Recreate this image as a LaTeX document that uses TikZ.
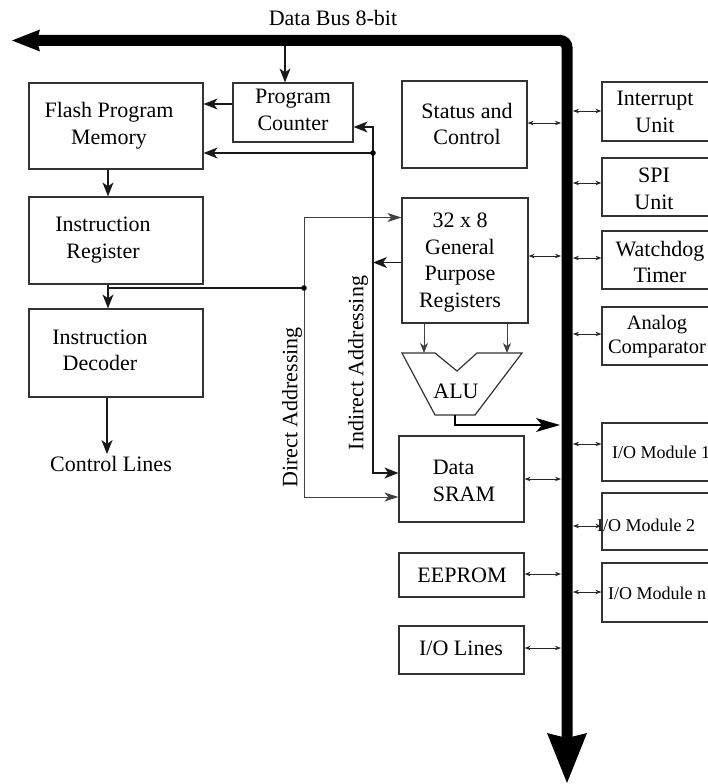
\documentclass[tikz,border=0pt]{standalone}
\usepackage{fontspec}
\setmainfont{Liberation Serif}
\usetikzlibrary{arrows.meta,calc}
\begin{document}
\begin{tikzpicture}[x=1pt,y=-1pt,
  boxst/.style={draw=black!80, line width=1.2pt, inner sep=0pt},
  txt/.style={font=\fontsize{22}{26.5}\selectfont, align=center, inner sep=0pt},
  arr/.style={draw=black!90, line width=1.1pt, -{Stealth[length=14pt,width=11pt,inset=4pt]}},
  arrD/.style={draw=black!75, line width=0.9pt, -{Stealth[length=14pt,width=9pt,inset=4pt]}},
  arrS/.style={draw=black!75, line width=0.9pt, -{Stealth[length=10pt,width=8pt,inset=3pt]}},
  conn/.style={draw=black!90, line width=1.1pt},
  dbl/.style={draw=black!85, line width=0.8pt, {Stealth[length=6pt,width=4.5pt]}-{Stealth[length=6pt,width=4.5pt]}},
  bigarr/.style={draw=black, line width=1.8pt, -{Stealth[length=24pt,width=14pt,inset=6pt,line width=0pt]}},
  bus/.style={draw=black, line width=11pt, rounded corners=7pt,
    {Stealth[length=28pt,width=22pt,inset=3pt,line width=0pt]}-{Stealth[length=50pt,width=40pt,inset=5pt,line width=0pt]}},
  dot/.style={fill=black}
]
\useasboundingbox (0,0) rectangle (708,784);
\clip (0,0) rectangle (708,784);

% ---- blocks ----
\node[boxst,minimum width=174pt,minimum height=86pt] (fpm) at (116,126) {};
\node[boxst,minimum width=120pt,minimum height=59pt] (pc) at (293,112.5) {};
\node[boxst,minimum width=174pt,minimum height=87pt] (ir) at (116,240.5) {};
\node[boxst,minimum width=174pt,minimum height=88pt] (id) at (116,353) {};
\node[boxst,minimum width=125pt,minimum height=87pt] (stat) at (464.5,124.5) {};
\node[boxst,minimum width=126pt,minimum height=125pt] (gpr) at (465,260.5) {};
\node[boxst,minimum width=125pt,minimum height=86pt] (sram) at (461.5,479) {};
\node[boxst,minimum width=125pt,minimum height=44pt] (eep) at (461.5,575) {};
\node[boxst,minimum width=125pt,minimum height=48pt] (iol) at (461.5,650) {};
% peripheral column
\node[boxst,minimum width=112pt,minimum height=59pt] (intu) at (658,111.5) {};
\node[boxst,minimum width=112pt,minimum height=58pt] (spi) at (658,187) {};
\node[boxst,minimum width=112pt,minimum height=58pt] (wdt) at (658,260) {};
\node[boxst,minimum width=112pt,minimum height=58pt] (ana) at (658,336) {};
\node[boxst,minimum width=112pt,minimum height=58pt] (io1) at (658,452) {};
\node[boxst,minimum width=112pt,minimum height=57pt] (io2) at (658,521.5) {};
\node[boxst,minimum width=112pt,minimum height=59pt] (ion) at (658,592.5) {};

% ---- labels ----
\node[txt] (dbT) at (333,18) {Data Bus 8-bit};
\node[txt] (fpmT) at (109,125.5) {Flash Program\\Memory};
\node[txt] (pcT) at (293,110) {Program\\Counter};
\node[txt] (irT) at (103,240) {Instruction\\Register};
\node[txt] (idT) at (100,350.5) {Instruction\\Decoder};
\node[txt,inner sep=2pt] (ctlT) at (111,464) {Control Lines};
\node[txt] (statT) at (467,124) {Status and\\Control};
\node[txt] (gprT) at (460,262.5) {32 x 8\\General\\Purpose\\Registers};
\node[txt,align=left] (sramT) at (464,481) {Data\\SRAM};
\node[txt] (eepT) at (462,575) {EEPROM};
\node[txt] (iolT) at (461,648) {I/O Lines};
\node[txt] (intT) at (655,112) {Interrupt\\Unit};
\node[txt] (spiT) at (654,189) {SPI\\Unit};
\node[txt] (wdtT) at (660,262) {Watchdog\\Timer};
\node[txt,font=\fontsize{20.5}{24}\selectfont] (anaT) at (657,337) {Analog\\Comparator};
\node[txt,font=\fontsize{18}{22}\selectfont,anchor=west] (io1T) at (612,452) {I/O Module 1};
\node[txt,font=\fontsize{18}{22}\selectfont,anchor=west] (io2T) at (597,525) {I/O Module 2};
\node[txt,font=\fontsize{18}{22}\selectfont,anchor=west] (ionT) at (608,593) {I/O Module n};
\node[txt,rotate=90] (dirT) at (292,407.5) {Direct Addressing};
\node[txt,rotate=90] (indT) at (358,363) {Indirect Addressing};

% ---- ALU ----
\coordinate (aTL) at (402,353);
\coordinate (aN1) at (435,353);
\coordinate (aV)  at (457,371);
\coordinate (aN2) at (477,353);
\coordinate (aTR) at (522,353);
\coordinate (aBR) at (475,415);
\coordinate (aBL) at (435,415);
\draw[boxst] (aTL) -- (aN1) -- (aV) -- (aN2) -- (aTR) -- (aBR) -- (aBL) -- cycle;
\node[txt] (aluT) at (456,391) {ALU};

% ---- bus reference points ----
\coordinate (busW) at (12,40.5);
\coordinate (busC) at (567,40.5);
\coordinate (busS) at (567,783);
\coordinate (busL) at (561,0);
\coordinate (busR) at (573,0);

% ---- program flow ----
\coordinate (pcIn) at ([xshift=-8pt]pc.north);
\draw[arr] (pcIn |- busC) -- (pcIn);
\coordinate (pcOut) at ([yshift=8.5pt]pc.west);
\draw[arr] (pcOut) -- (pcOut -| fpm.east);
\coordinate (fpmOut) at ([xshift=-8pt]fpm.south);
\draw[arr] (fpmOut) -- (fpmOut |- ir.north);
\coordinate (irOut) at ([xshift=-8pt]ir.south);
\draw[arr] (irOut) -- (irOut |- id.north);
\coordinate (idOut) at ([xshift=-9pt]id.south);
\draw[arr] (idOut) -- (idOut |- ctlT.north);

% ---- direct addressing ----
\coordinate (jDir) at (304,288);
\draw[conn] (irOut |- jDir) -- (jDir);
\coordinate (gprInD) at ([yshift=43pt]gpr.west);
\draw[arrD] (jDir) |- (gprInD);
\coordinate (sramInD) at ([yshift=-18pt]sram.west);
\draw[arrD] (jDir) |- (sramInD);
\fill[dot] (jDir) circle (2.8pt);

% ---- indirect addressing ----
\coordinate (jInd) at (373,153);
\coordinate (pcInR) at ([yshift=-14.5pt]pc.east);
\draw[arr] (jInd) |- (pcInR);
\draw[arr] (jInd) -- (jInd -| fpm.east);
\coordinate (sramInI) at ([yshift=6pt]sram.west);
\draw[arr] (jInd) |- (sramInI);
\coordinate (gprOut) at ([yshift=-2pt]gpr.west);
\draw[arr] (gprOut) -- (gprOut -| jInd);
\fill[dot] (jInd) circle (2.8pt);

% ---- register file to ALU, ALU to bus ----
\coordinate (gprA) at ([xshift=-41pt]gpr.south);
\coordinate (gprB) at ([xshift=42pt]gpr.south);
\draw[arrS] (gprA) -- (gprA |- aTL);
\draw[arrS] (gprB) -- (gprB |- aTL);
\coordinate (aOut) at (455,415);
\coordinate (aDst) at (560,425);
\draw[bigarr] (aOut) |- (aDst);

% ---- bus links, left side ----
\coordinate (statB) at ([yshift=1.5pt]stat.east);
\draw[dbl] (statB) -- (statB -| busL);
\coordinate (gprBus) at ([yshift=4.5pt]gpr.east);
\draw[dbl] (gprBus) -- (gprBus -| busL);
\coordinate (sramB) at (sram.east);
\draw[dbl] (sramB) -- (sramB -| busL);
\coordinate (eepB) at ([yshift=1pt]eep.east);
\draw[dbl] (eepB) -- (eepB -| busL);
\coordinate (iolB) at ([yshift=2pt]iol.east);
\draw[dbl] (iolB) -- (iolB -| busL);

% ---- bus links, right side ----
\coordinate (intB) at ([yshift=0.5pt]intu.west);
\draw[dbl] (busR |- intB) -- (intB);
\coordinate (spiB) at ([yshift=4pt]spi.west);
\draw[dbl] (busR |- spiB) -- (spiB);
\coordinate (wdtB) at ([yshift=2pt]wdt.west);
\draw[dbl] (busR |- wdtB) -- (wdtB);
\coordinate (anaB) at ([yshift=2pt]ana.west);
\draw[dbl] (busR |- anaB) -- (anaB);
\coordinate (io1B) at ([yshift=8pt]io1.west);
\draw[dbl] (busR |- io1B) -- (io1B);
\coordinate (io2B) at ([yshift=-4.5pt]io2.west);
\draw[dbl] (busR |- io2B) -- (io2B);
\coordinate (ionB) at ([yshift=0.5pt]ion.west);
\draw[dbl] (busR |- ionB) -- (ionB);

% ---- 8-bit data bus ----
\draw[bus] (busW) -- (busC) -- (busS);
\end{tikzpicture}
\end{document}
